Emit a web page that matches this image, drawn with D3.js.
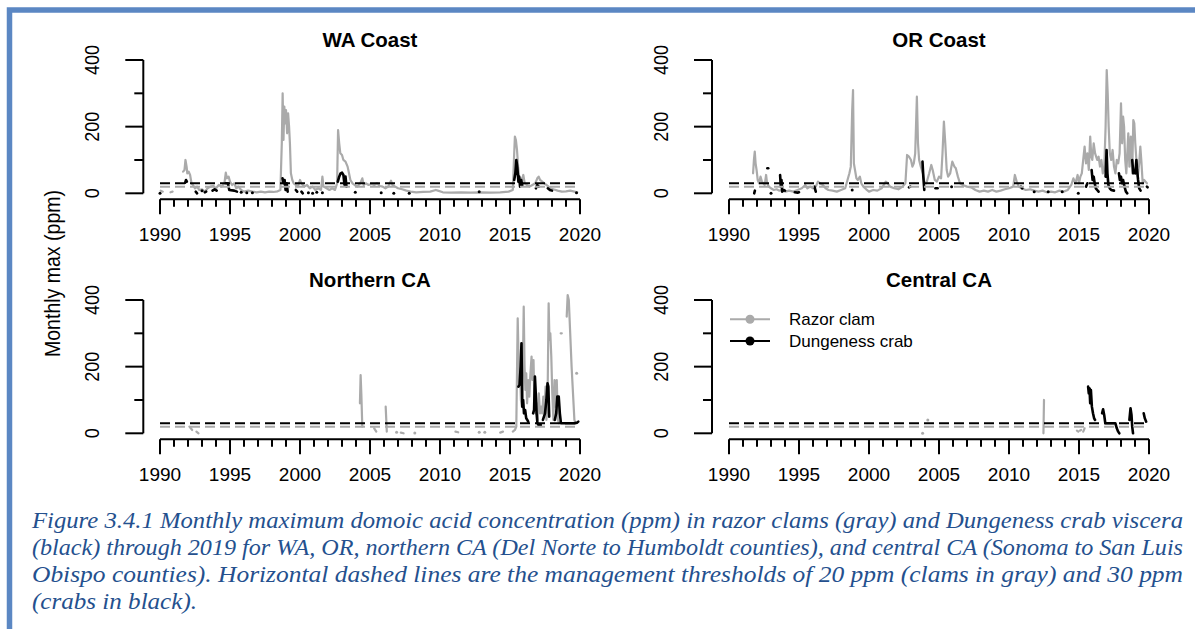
<!DOCTYPE html>
<html><head><meta charset="utf-8">
<script src="https://cdn.jsdelivr.net/npm/d3@7"></script>
<style>body{margin:0;background:#fff;} svg{display:block;}</style>
</head><body>
<svg id="c" width="1195" height="629"></svg>
<script>
// ---------------- DATA (decimal year, ppm); each inner array is a continuous run ----------------
const panelTitles = ["WA Coast", "OR Coast", "Northern CA", "Central CA"];
const seriesNames = ["Razor clam", "Dungeness crab"];
const xTickYears = [1990,1991,1992,1993,1994,1995,1996,1997,1998,1999,2000,2001,2002,2003,2004,2005,2006,2007,2008,2009,2010,2011,2012,2013,2014,2015,2016,2017,2018,2019,2020];
const xLabelYears = [1990,1995,2000,2005,2010,2015,2020];
const yTickValues = [0,100,200,300,400];
const yLabelValues = [0,200,400];
const clamThreshold = 20;
const crabThreshold = 30;

const waClam = [
 [[1990.05,8],[1990.2,5]],
 [[1990.75,3],[1990.9,5]],
 [[1991.65,65],[1991.75,70],[1991.82,100],[1991.9,80],[1991.95,60],[1992.05,65],[1992.15,55],[1992.25,30],[1992.35,25],[1992.5,15],[1992.65,20],[1992.8,10],[1993.0,12],[1993.2,5],[1993.4,15],[1993.6,20],[1993.8,22],[1994.0,15],[1994.2,25],[1994.4,20],[1994.6,30],[1994.7,62],[1994.78,45],[1994.9,50],[1995.0,35],[1995.15,25],[1995.3,30],[1995.45,15],[1995.6,20],[1995.8,10],[1996.0,5],[1996.3,8],[1996.6,5],[1996.9,3],[1997.2,5],[1997.5,3],[1997.8,5],[1998.1,4],[1998.4,6],[1998.6,10],[1998.7,150],[1998.76,300],[1998.82,160],[1998.88,260],[1998.95,210],[1999.0,250],[1999.08,180],[1999.15,240],[1999.22,200],[1999.28,150],[1999.35,60],[1999.45,40],[1999.55,30],[1999.7,25],[1999.85,20],[2000.0,40],[2000.1,30],[2000.3,20],[2000.5,25],[2000.7,15],[2000.9,20],[2001.1,10],[2001.3,15],[2001.5,10],[2001.6,50],[2001.68,20],[2001.9,15],[2002.1,10],[2002.3,15],[2002.5,10],[2002.65,30],[2002.72,190],[2002.8,150],[2002.88,120],[2003.0,115],[2003.1,100],[2003.25,95],[2003.4,80],[2003.5,60],[2003.6,40],[2003.75,30],[2003.9,25],[2004.1,20],[2004.3,30],[2004.45,45],[2004.55,25],[2004.7,30],[2004.9,25],[2005.1,28],[2005.3,25],[2005.5,30],[2005.7,22],[2005.9,20],[2006.1,15],[2006.3,20],[2006.5,38],[2006.6,25],[2006.8,20],[2007.0,15],[2007.3,12],[2007.6,8],[2007.9,5],[2008.3,3],[2008.8,4],[2009.3,5],[2009.7,10],[2009.85,8],[2010.2,3],[2010.8,2],[2011.5,3],[2012.2,2],[2012.9,3],[2013.6,2],[2014.3,3],[2014.9,5],[2015.2,10],[2015.3,120],[2015.35,170],[2015.42,160],[2015.5,130],[2015.58,80],[2015.65,50],[2015.75,45],[2015.85,40],[2015.95,55],[2016.05,30],[2016.2,25],[2016.4,20],[2016.6,25],[2016.8,30],[2016.95,45],[2017.05,50],[2017.15,40],[2017.3,35],[2017.45,30],[2017.6,25],[2017.75,20],[2017.9,15],[2018.1,12],[2018.4,8],[2018.7,5],[2019.0,6],[2019.3,8],[2019.6,5],[2019.8,3]]
];
const waCrab = [
 [[1990.0,0]],
 [[1991.8,32],[1991.86,40],[1991.92,35]],
 [[1992.55,5],[1992.65,0]],
 [[1993.0,8]],
 [[1993.2,3],[1993.3,5]],
 [[1993.75,8],[1993.9,12],[1994.05,8]],
 [[1994.7,30],[1994.85,30],[1994.95,10],[1995.3,8],[1995.5,5]],
 [[1995.8,3]],[[1996.2,2]],[[1996.6,2]],
 [[1998.75,45],[1998.82,30],[1998.9,40],[1998.97,10],[1999.05,30],[1999.12,5]],
 [[1999.7,10],[1999.8,5]],[[2000.1,5],[2000.2,0]],[[2000.6,2]],[[2000.9,0]],[[2001.2,3]],[[2001.6,2]],
 [[2002.7,35],[2002.8,50],[2002.9,60],[2003.0,62],[2003.1,55],[2003.18,25],[2003.25,50],[2003.32,20]],
 [[2003.95,3]],[[2005.8,2]],[[2006.7,0]],[[2007.8,0]],[[2012.8,5]],
 [[2015.3,40],[2015.38,60],[2015.45,100],[2015.52,80],[2015.6,35],[2015.65,50],[2015.72,20],[2015.8,40],[2015.88,25]],
 [[2016.85,15],[2016.95,25],[2017.05,20]],
 [[2017.7,15],[2017.85,10],[2018.0,8]],
 [[2019.75,2]]
];
const orClam = [
 [[1991.72,60],[1991.78,100],[1991.84,125],[1991.9,90],[1991.97,70],[1992.05,40],[1992.15,30],[1992.25,50],[1992.35,35],[1992.45,30],[1992.55,25],[1992.65,55],[1992.72,30],[1992.85,20],[1993.0,15],[1993.2,10],[1993.4,12],[1993.6,8],[1993.8,10],[1994.0,5],[1994.3,8],[1994.6,5],[1994.9,10],[1995.2,15],[1995.45,25],[1995.6,15],[1995.8,20],[1996.0,15],[1996.2,20],[1996.35,35],[1996.5,30],[1996.7,25],[1996.9,15],[1997.1,10],[1997.4,8],[1997.7,5],[1998.0,10],[1998.3,15],[1998.5,45],[1998.6,60],[1998.7,80],[1998.8,250],[1998.86,310],[1998.92,90],[1999.0,70],[1999.1,45],[1999.2,40],[1999.35,50],[1999.45,30],[1999.6,20],[1999.8,12],[2000.0,5],[2000.3,10],[2000.6,8],[2000.9,15],[2001.2,35],[2001.35,30],[2001.5,20],[2001.8,15],[2002.1,12],[2002.4,20],[2002.6,30],[2002.72,115],[2002.85,110],[2003.0,100],[2003.1,80],[2003.2,90],[2003.3,120],[2003.42,290],[2003.5,150],[2003.58,100],[2003.7,80],[2003.85,60],[2003.95,35],[2004.1,30],[2004.3,60],[2004.45,85],[2004.55,70],[2004.7,40],[2004.85,35],[2005.0,50],[2005.15,45],[2005.25,120],[2005.35,215],[2005.45,150],[2005.55,70],[2005.65,50],[2005.8,60],[2005.95,95],[2006.1,80],[2006.2,75],[2006.35,50],[2006.5,30],[2006.7,25],[2007.0,20],[2007.3,18],[2007.6,10],[2007.9,5],[2008.2,8],[2008.5,5],[2008.8,10],[2009.1,5],[2009.4,8],[2009.7,12],[2010.0,15],[2010.3,20],[2010.42,55],[2010.55,35],[2010.7,20],[2010.9,15],[2011.2,10],[2011.5,12],[2011.8,8],[2012.1,5],[2012.4,8],[2012.7,3],[2013.0,5],[2013.3,3],[2013.6,8],[2013.9,5],[2014.2,10],[2014.45,25],[2014.6,45],[2014.75,30],[2014.9,55],[2015.0,30],[2015.1,50],[2015.2,60],[2015.3,100],[2015.4,140],[2015.5,90],[2015.6,120],[2015.7,70],[2015.8,170],[2015.88,110],[2015.95,100],[2016.05,150],[2016.15,120],[2016.3,100],[2016.4,110],[2016.5,80],[2016.6,100],[2016.7,60],[2016.8,70],[2016.9,200],[2016.98,370],[2017.05,300],[2017.12,200],[2017.2,120],[2017.3,100],[2017.4,130],[2017.5,80],[2017.6,60],[2017.7,100],[2017.8,90],[2017.9,120],[2018.0,270],[2018.08,150],[2018.15,230],[2018.22,200],[2018.3,100],[2018.38,60],[2018.45,120],[2018.52,180],[2018.6,80],[2018.7,170],[2018.8,60],[2018.88,220],[2018.95,210],[2019.02,150],[2019.1,100],[2019.2,50],[2019.3,90],[2019.38,140],[2019.45,100],[2019.55,30],[2019.65,40],[2019.75,35],[2019.85,30]]
];
const orCrab = [
 [[1991.8,0],[1991.85,8]],
 [[1992.74,75],[1992.8,75]],
 [[1993.0,0]],
 [[1993.65,55],[1993.7,20],[1993.75,40],[1993.8,5],[1993.9,10],[1994.0,8]],
 [[1994.7,3],[1994.9,2],[1995.0,3]],
 [[1996.1,20],[1996.2,5]],
 [[1998.8,10]],
 [[2002.85,18],[2002.95,20]],
 [[2003.82,95],[2003.88,50],[2003.95,10]],
 [[2004.75,15],[2004.9,15]],
 [[2005.9,20]],
 [[2010.85,20],[2010.95,15]],
 [[2011.8,5]],[[2012.8,5]],[[2013.8,5]],[[2014.95,0]],
 [[2015.5,20],[2015.6,30]],
 [[2015.9,70],[2015.97,40],[2016.05,50],[2016.12,30],[2016.2,15],[2016.3,10],[2016.4,5]],
 [[2016.9,50],[2016.97,130],[2017.03,60],[2017.1,25],[2017.2,15],[2017.3,10],[2017.5,8]],
 [[2017.85,60],[2017.92,40],[2018.0,50],[2018.07,30],[2018.15,40],[2018.25,20],[2018.35,5],[2018.45,0]],
 [[2018.8,100],[2018.88,60],[2018.95,65],[2019.02,60],[2019.1,100],[2019.15,70],[2019.22,40],[2019.3,15],[2019.4,8]],
 [[2019.85,20],[2019.9,18]]
];
const ncaClam = [
 [[1992.1,20],[1992.2,15],[1992.3,10]],
 [[1992.6,5],[1992.75,0]],
 [[2004.28,90],[2004.33,175],[2004.38,120],[2004.45,20]],
 [[2005.3,15],[2005.45,5]],
 [[2006.12,80],[2006.2,5]],
 [[2006.9,3]],[[2007.2,2],[2007.4,0]],[[2008.2,1]],
 [[2011.1,5],[2011.3,3]],
 [[2012.8,3]],[[2013.2,3]],[[2014.3,2],[2014.5,5]],
 [[2015.2,5],[2015.35,10],[2015.45,20],[2015.55,345],[2015.6,250],[2015.66,140],[2015.72,180],[2015.78,100],[2015.85,80],[2015.92,200],[2015.98,380],[2016.04,200],[2016.1,130],[2016.16,180],[2016.22,90],[2016.3,160],[2016.38,110],[2016.46,180],[2016.54,230],[2016.6,160],[2016.68,220],[2016.74,100],[2016.82,60],[2016.9,90],[2016.98,40],[2017.06,120],[2017.14,60],[2017.22,80],[2017.3,60],[2017.38,110],[2017.46,60],[2017.54,140],[2017.6,40],[2017.68,90],[2017.76,390],[2017.82,280],[2017.88,300],[2017.95,230],[2018.02,120],[2018.1,40],[2018.18,160],[2018.26,80],[2018.34,160],[2018.42,40],[2018.5,30]],
 [[2018.62,300],[2018.7,300]],
 [[2019.05,350],[2019.12,415],[2019.2,400],[2019.4,200],[2019.6,40],[2019.68,30]],
 [[2019.76,180]]
];
const ncaCrab = [
 [[2015.6,140],[2015.68,145],[2015.76,200],[2015.82,270],[2015.88,80],[2015.94,100],[2016.0,60],[2016.08,70],[2016.16,45],[2016.24,40],[2016.3,35]],
 [[2016.65,60],[2016.72,70],[2016.78,170],[2016.84,120],[2016.9,60],[2016.96,30],[2017.04,25],[2017.2,25]],
 [[2017.35,40],[2017.5,60],[2017.6,100],[2017.68,150],[2017.74,140],[2017.8,50]],
 [[2018.2,40],[2018.3,60],[2018.38,110],[2018.48,110],[2018.56,60],[2018.64,30],[2018.8,30],[2019.0,30],[2019.3,30],[2019.6,30],[2019.8,32],[2019.88,35]]
];
const ccaClam = [
 [[2003.83,0]],
 [[2004.2,40]],
 [[2012.46,0],[2012.5,100]],
 [[2014.85,8],[2014.95,5]],
 [[2015.05,8],[2015.15,10]],
 [[2015.3,5],[2015.4,15]]
];
const ccaCrab = [
 [[2015.65,140],[2015.7,120],[2015.75,135],[2015.8,90],[2015.85,130],[2015.92,80],[2016.0,60],[2016.08,45],[2016.15,40]],
 [[2016.65,60],[2016.72,72],[2016.8,55],[2016.88,30],[2017.0,30],[2017.2,30],[2017.4,30],[2017.6,30],[2017.7,15],[2017.8,5],[2017.88,0]],
 [[2018.6,40],[2018.68,75],[2018.75,55],[2018.8,20],[2018.86,0]],
 [[2019.62,60],[2019.7,45],[2019.8,35]]
];

const captionLines = [
 "Figure 3.4.1 Monthly maximum domoic acid concentration (ppm) in razor clams (gray) and Dungeness crab viscera",
 "(black) through 2019 for WA, OR, northern CA (Del Norte to Humboldt counties), and central CA (Sonoma to San Luis",
 "Obispo counties). Horizontal dashed lines are the management thresholds of 20 ppm (clams in gray) and 30 ppm",
 "(crabs in black)."
];

// ---------------- LAYOUT ----------------
const GRAY = "#aaaaaa", BLACK = "#000000";
const cols = [{axisX:143.3, x0:160, x1:580}, {axisX:712, x0:729, x1:1149}];
const rows = [{y0:193.3, y1:60, axisY:199.3, titleY:47}, {y0:433.3, y1:300, axisY:439.3, titleY:287}];
const panels = [
 {title:panelTitles[0], clam:waClam, crab:waCrab, c:0, r:0},
 {title:panelTitles[1], clam:orClam, crab:orCrab, c:1, r:0},
 {title:panelTitles[2], clam:ncaClam, crab:ncaCrab, c:0, r:1},
 {title:panelTitles[3], clam:ccaClam, crab:ccaCrab, c:1, r:1, legend:true}
];

const svg = d3.select("#c");
svg.append("rect").attr("width",1195).attr("height",629).attr("fill","#fff");

// page frame
svg.append("path").attr("d","M9.5,629 V10 H1195").attr("fill","none").attr("stroke","#5b87c3").attr("stroke-width",5.5);

const FONT = "'Liberation Sans', Arial, sans-serif";

panels.forEach(p => {
  const C = cols[p.c], R = rows[p.r];
  const x = d3.scaleLinear().domain([1990,2020]).range([C.x0, C.x1]);
  const y = d3.scaleLinear().domain([0,400]).range([R.y0, R.y1]);
  const g = svg.append("g");
  const line = d3.line().x(d=>x(d[0])).y(d=>y(d[1]));

  const drawSeries = (segs, color, w) => {
    segs.forEach(s => {
      if (s.length === 1) {
        g.append("circle").attr("cx", x(s[0][0])).attr("cy", y(s[0][1])).attr("r", 1.5).attr("fill", color);
      } else {
        g.append("path").attr("d", line(s)).attr("fill","none").attr("stroke",color)
          .attr("stroke-width",w).attr("stroke-linejoin","round").attr("stroke-linecap","round");
      }
    });
  };
  drawSeries(p.clam, GRAY, 2.2);
  drawSeries(p.crab, BLACK, 2.6);

  // thresholds
  g.append("line").attr("x1",x(1990)).attr("x2",x(2019.9)).attr("y1",y(clamThreshold)).attr("y2",y(clamThreshold))
   .attr("stroke",GRAY).attr("stroke-width",2).attr("stroke-dasharray","10,5");
  g.append("line").attr("x1",x(1990)).attr("x2",x(2019.9)).attr("y1",y(crabThreshold)).attr("y2",y(crabThreshold))
   .attr("stroke",BLACK).attr("stroke-width",2).attr("stroke-dasharray","10,5");

  // y axis
  g.append("line").attr("x1",C.axisX).attr("x2",C.axisX).attr("y1",y(0)).attr("y2",y(400)).attr("stroke","#000").attr("stroke-width",2);
  yTickValues.forEach(v => {
    const long = yLabelValues.includes(v);
    g.append("line").attr("x1",C.axisX).attr("x2",C.axisX-(long?18:9)).attr("y1",y(v)).attr("y2",y(v)).attr("stroke","#000").attr("stroke-width",2);
  });
  yLabelValues.forEach(v => {
    g.append("text").attr("transform",`translate(${C.axisX-44},${y(v)}) rotate(-90)`)
     .attr("text-anchor","middle").attr("font-family",FONT).attr("font-size",21)
     .attr("textLength", String(v).length*10).attr("lengthAdjust","spacingAndGlyphs")
     .text(v);
  });

  // x axis
  g.append("line").attr("x1",x(1990)).attr("x2",x(2020)).attr("y1",R.axisY).attr("y2",R.axisY).attr("stroke","#000").attr("stroke-width",2);
  xTickYears.forEach(t => {
    const major = xLabelYears.includes(t);
    g.append("line").attr("x1",x(t)).attr("x2",x(t)).attr("y1",R.axisY).attr("y2",R.axisY+(major?15:7.5)).attr("stroke","#000").attr("stroke-width",2);
  });
  xLabelYears.forEach(t => {
    g.append("text").attr("x",x(t)).attr("y",R.axisY+42).attr("text-anchor","middle")
     .attr("font-family",FONT).attr("font-size",19).text(t);
  });

  // title
  g.append("text").attr("x",(C.x0+C.x1)/2).attr("y",R.titleY).attr("text-anchor","middle")
   .attr("font-family",FONT).attr("font-weight","bold").attr("font-size",20.5).text(p.title);

  if (p.legend) {
    const items = [{name:seriesNames[0], color:GRAY, yy:319.3},{name:seriesNames[1], color:BLACK, yy:341}];
    items.forEach(it => {
      g.append("line").attr("x1",730).attr("x2",770).attr("y1",it.yy).attr("y2",it.yy).attr("stroke",it.color).attr("stroke-width",2);
      g.append("circle").attr("cx",750).attr("cy",it.yy).attr("r",4.5).attr("fill",it.color);
      g.append("text").attr("x",789).attr("y",it.yy+6).attr("font-family",FONT).attr("font-size",17).text(it.name);
    });
  }
});

// y-axis label
svg.append("text").attr("transform","translate(60,273.5) rotate(-90)").attr("text-anchor","middle")
  .attr("font-family",FONT).attr("font-size",22).attr("textLength",167).attr("lengthAdjust","spacingAndGlyphs")
  .text("Monthly max (ppm)");

// caption
const capWidths = [1151,1151,1151,165];
captionLines.forEach((t,i) => {
  svg.append("text").attr("x",32).attr("y",528+i*27)
    .attr("font-family","'Liberation Serif', 'Times New Roman', serif").attr("font-style","italic")
    .attr("font-size",23.5).attr("fill","#24508e")
    .attr("textLength",capWidths[i]).attr("lengthAdjust","spacingAndGlyphs")
    .text(t);
});
</script>
</body></html>
